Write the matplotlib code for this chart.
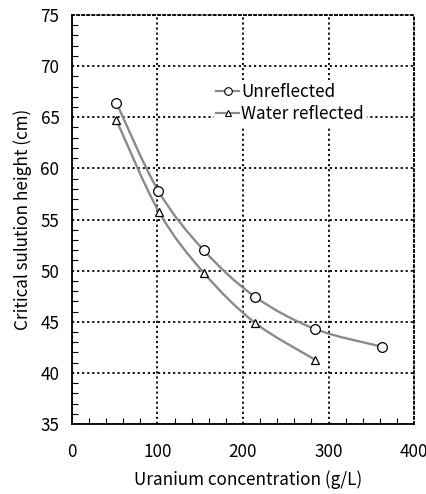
import matplotlib
matplotlib.use("Agg")
import matplotlib.pyplot as plt
import numpy as np
from matplotlib.path import Path
from matplotlib.patches import PathPatch
from matplotlib.lines import Line2D
from matplotlib.ticker import MultipleLocator

plt.rcParams['font.family'] = ['Noto Sans CJK JP', 'DejaVu Sans']

conc_unrefl = [52, 101, 154, 214, 284, 363]
height_unrefl = [66.4, 57.8, 52.0, 47.45, 44.3, 42.55]
conc_water = [52, 102, 154, 214, 284]
height_water = [64.7, 55.7, 49.8, 44.9, 41.3]

LINE_GRAY = "#8a8a8a"
FS = 12.3


def smooth_path(xs, ys, tension=1 / 6):
    # Catmull-Rom style cubic Bezier through the points (like a smoothed spreadsheet line)
    pts = np.column_stack([xs, ys]).astype(float)
    verts = [pts[0]]
    codes = [Path.MOVETO]
    n = len(pts)
    for i in range(n - 1):
        p0 = pts[i - 1] if i > 0 else pts[i]
        p1 = pts[i]
        p2 = pts[i + 1]
        p3 = pts[i + 2] if i + 2 < n else pts[i + 1]
        c1 = p1 + (p2 - p0) * tension
        c2 = p2 - (p3 - p1) * tension
        verts += [c1, c2, p2]
        codes += [Path.CURVE4] * 3
    return Path(verts, codes)


fig = plt.figure(figsize=(4.27, 4.94), dpi=100)
ax = fig.add_axes([0.1686, 0.1417, 0.8010, 0.8279])

for xs, ys in [(conc_unrefl, height_unrefl), (conc_water, height_water)]:
    ax.add_patch(PathPatch(smooth_path(xs, ys), facecolor="none",
                           edgecolor=LINE_GRAY, lw=1.7, zorder=3))

ax.plot(conc_unrefl, height_unrefl, ls="none", marker="o", ms=7,
        mfc="white", mec="black", mew=0.9, zorder=4)
ax.plot(conc_water, height_water, ls="none", marker="^", ms=5.5,
        mfc="white", mec="black", mew=0.9, zorder=4)

ax.set_xlim(0, 400)
ax.set_ylim(35, 75)
ax.xaxis.set_major_locator(MultipleLocator(100))
ax.xaxis.set_minor_locator(MultipleLocator(20))
ax.yaxis.set_major_locator(MultipleLocator(5))
ax.yaxis.set_minor_locator(MultipleLocator(1))
ax.tick_params(which="both", direction="in", top=False, right=False,
               labelsize=FS)
ax.tick_params(axis="x", pad=14)
ax.tick_params(axis="y", pad=9)
ax.tick_params(which="major", length=0)
ax.tick_params(which="minor", length=4, width=0.8)

ax.grid(True, which="major", color="black", ls=(0, (1.2, 1.6)), lw=1.3)
for side in ["top", "right"]:
    ax.spines[side].set_linestyle((0, (1.2, 1.6)))
    ax.spines[side].set_linewidth(1.3)
for side in ["left", "bottom"]:
    ax.spines[side].set_linewidth(1.3)

ax.set_xlabel("Uranium concentration (g/L)", fontsize=FS)
ax.xaxis.set_label_coords(0.515, -0.113)
ax.set_ylabel("Critical sulution height (cm)", fontsize=FS, labelpad=6)

handles = [
    Line2D([], [], color=LINE_GRAY, lw=1.6, marker="o", ms=5.5,
           mfc="white", mec="black", mew=0.8),
    Line2D([], [], color=LINE_GRAY, lw=1.6, marker="^", ms=4.5,
           mfc="white", mec="black", mew=0.8),
]
leg = ax.legend(handles, ["Unreflected", "Water reflected"],
                loc="upper left", bbox_to_anchor=(0.415, 0.84),
                frameon=True, fancybox=False, edgecolor="none",
                facecolor="white", framealpha=1, fontsize=FS,
                handlelength=1.3, handletextpad=0.15, labelspacing=0.25,
                borderpad=0.15, borderaxespad=0)

fig.savefig("out.png", dpi=100)
